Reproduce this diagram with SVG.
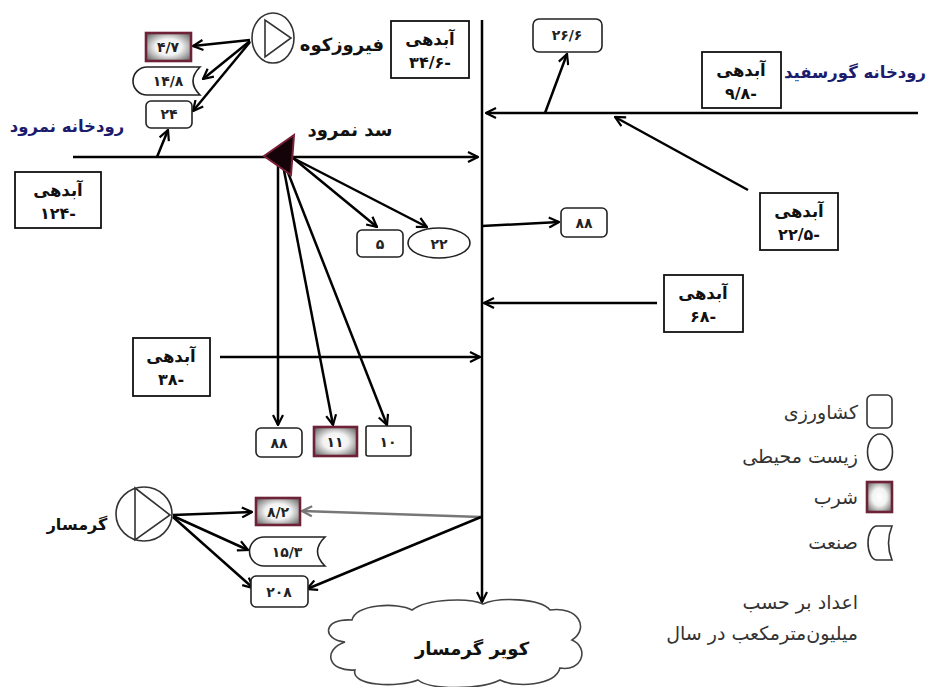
<svg xmlns="http://www.w3.org/2000/svg" width="930" height="687" viewBox="0 0 930 687">
<style>
.ln{stroke:#000;stroke-width:2.5;fill:none}
.ar{stroke:#000;stroke-width:2.5;fill:none;marker-end:url(#ah)}
.box{fill:#fff;stroke:#111;stroke-width:1.8}
.rbox{fill:#fff;stroke:#222;stroke-width:1.6}
.drink{fill:url(#dg);stroke:#6e2238;stroke-width:2.6}
.t{font-family:"DejaVu Sans",sans-serif;font-weight:bold;fill:#111;text-anchor:middle}
.n{font-family:"DejaVu Sans",sans-serif;font-weight:bold;font-size:14px;fill:#222;text-anchor:middle}
.riv{font-family:"DejaVu Sans",sans-serif;font-weight:bold;font-size:16.5px;fill:#1c1c6e;text-anchor:middle}
.lg{font-family:"DejaVu Sans",sans-serif;font-size:19px;fill:#333;text-anchor:end}
</style>
<defs>
<marker id="ah" viewBox="0 0 12 12" refX="11" refY="6" markerWidth="12" markerHeight="12" orient="auto" markerUnits="userSpaceOnUse"><path d="M1,1 L11,6 L1,11" fill="none" stroke="#000" stroke-width="2.2"/></marker>
<marker id="ahg" viewBox="0 0 12 12" refX="11" refY="6" markerWidth="12" markerHeight="12" orient="auto" markerUnits="userSpaceOnUse"><path d="M1,1 L11,6 L1,11" fill="none" stroke="#777" stroke-width="2.2"/></marker>
<radialGradient id="dg" cx="50%" cy="50%" r="65%"><stop offset="0" stop-color="#fff"/><stop offset="0.45" stop-color="#f2f2f2"/><stop offset="1" stop-color="#6a6a6a"/></radialGradient>
</defs>

<g id="connectors">
<path class="ar" d="M482,20 L482,602"/>
<path class="ar" d="M73,157 L478,157"/>
<path class="ar" d="M918,113 L486,113"/>
<path class="ar" d="M157,157 L168,130"/>
<path class="ar" d="M250,40 L193,46"/>
<path class="ar" d="M250,41 L203,79"/>
<path class="ar" d="M250,42 L193,111"/>
<path class="ar" d="M545,113 L567,54"/>
<path class="ar" d="M748,190 L615,117"/>
<path class="ar" d="M293,158 L377,227"/>
<path class="ar" d="M293,158 L427,227"/>
<path class="ar" d="M278,165 L278,425"/>
<path class="ar" d="M283,165 L333,425"/>
<path class="ar" d="M285,165 L387,425"/>
<path class="ar" d="M482,226 L559,222"/>
<path class="ar" d="M657,303 L484,303"/>
<path class="ar" d="M220,357 L480,357"/>
<path class="ar" d="M173,515 L252,512"/>
<path class="ar" d="M173,516 L248,550"/>
<path class="ar" d="M173,517 L253,588"/>
<path d="M481,517 L302,511" stroke="#777" stroke-width="2.5" fill="none" marker-end="url(#ahg)"/>
<path class="ar" d="M481,517 L307,589"/>
</g>

<g id="abdehi-124"><rect class="box" x="15" y="172" width="86" height="56"/><text class="t" font-size="16.5" x="58" y="196">آبدهی</text><text class="t" font-size="16" x="58" y="219">۱۲۴-</text></g>
<g id="abdehi-34-6"><rect class="box" x="391" y="21" width="78" height="57"/><text class="t" font-size="16.5" x="430" y="45">آبدهی</text><text class="t" font-size="16" x="430" y="68">۳۴/۶-</text></g>
<g id="abdehi-9-8"><rect class="box" x="702" y="52" width="79" height="56"/><text class="t" font-size="16.5" x="741" y="76">آبدهی</text><text class="t" font-size="16" x="741" y="99">۹/۸-</text></g>
<g id="abdehi-22-5"><rect class="box" x="760" y="193" width="78" height="57"/><text class="t" font-size="16.5" x="799" y="217">آبدهی</text><text class="t" font-size="16" x="799" y="240">۲۲/۵-</text></g>
<g id="abdehi-68"><rect class="box" x="664" y="275" width="79" height="57"/><text class="t" font-size="16.5" x="703" y="299">آبدهی</text><text class="t" font-size="16" x="703" y="322">۶۸-</text></g>
<g id="abdehi-38"><rect class="box" x="133" y="338" width="77" height="58"/><text class="t" font-size="16.5" x="171" y="362">آبدهی</text><text class="t" font-size="16" x="171" y="385">۳۸-</text></g>

<g id="river-nemrud"><text class="riv" x="67" y="132">رودخانه نمرود</text></g>
<g id="river-gorsefid"><text class="riv" x="855" y="78">رودخانه گورسفید</text></g>

<g id="pump-firuzkuh"><ellipse cx="273" cy="38" rx="21" ry="25" fill="#fff" stroke="#333" stroke-width="1.6"/><polygon points="265,20 265,57 291,38" fill="none" stroke="#333" stroke-width="1.6"/><text class="t" font-size="18" x="342" y="51">فیروزکوه</text></g>
<g id="drink-4-7"><rect class="drink" x="146" y="33" width="45" height="28"/><text class="n" x="168" y="52">۴/۷</text></g>
<g id="ind-14-8"><path class="rbox" d="M147,67 L200,67 Q186,81 200,95 L147,95 A14,14 0 0 1 147,67 Z"/><text class="n" x="168" y="86">۱۴/۸</text></g>
<g id="agr-24"><rect class="rbox" x="146" y="101" width="46" height="27" rx="5"/><text class="n" x="169" y="119">۲۴</text></g>

<g id="agr-26-6"><rect class="rbox" x="533" y="19" width="69" height="33" rx="6"/><text class="n" x="567" y="40">۲۶/۶</text></g>

<g id="dam-nemrud"><polygon points="264,156 294,135 291,175" fill="#14040a" stroke="#7a2038" stroke-width="2"/><text class="t" font-size="18" x="350" y="136">سد نمرود</text></g>
<g id="agr-5"><rect class="rbox" x="357" y="230" width="46" height="27" rx="5"/><text class="n" x="380" y="249">۵</text></g>
<g id="env-22"><ellipse class="rbox" cx="439" cy="243" rx="31" ry="15"/><text class="n" x="439" y="249">۲۲</text></g>
<g id="agr-88-right"><rect class="rbox" x="561" y="208" width="46" height="29" rx="5"/><text class="n" x="584" y="228">۸۸</text></g>

<g id="agr-88"><rect class="rbox" x="256" y="428" width="46" height="29" rx="5"/><text class="n" x="279" y="448">۸۸</text></g>
<g id="drink-11"><rect class="drink" x="314" y="427" width="43" height="29"/><text class="n" x="335" y="447">۱۱</text></g>
<g id="agr-10"><rect class="rbox" x="366" y="426" width="45" height="30" rx="2"/><text class="n" x="388" y="447">۱۰</text></g>

<g id="pump-garmsar"><ellipse cx="144" cy="514" rx="28" ry="27" fill="#fff" stroke="#333" stroke-width="1.6"/><polygon points="135,488 135,540 170,515" fill="none" stroke="#333" stroke-width="1.6"/><text class="t" font-size="16" x="77" y="530">گرمسار</text></g>
<g id="drink-8-2"><rect class="drink" x="256" y="498" width="44" height="27"/><text class="n" x="278" y="517">۸/۲</text></g>
<g id="ind-15-3"><path class="rbox" d="M264,537 L325,537 Q310,551.5 325,566 L264,566 A14.5,14.5 0 0 1 264,537 Z"/><text class="n" x="287" y="557">۱۵/۳</text></g>
<g id="agr-208"><rect class="rbox" x="251" y="576" width="57" height="31" rx="5"/><text class="n" x="279" y="597">۲۰۸</text></g>

<g id="kavir-garmsar"><path d="M345,642 C322,640 322,618 352,620 C356,604 398,602 412,610 C428,598 470,598 483,604 C498,597 540,598 550,610 C578,606 590,628 572,640 C590,648 582,672 560,668 C555,686 515,688 500,680 C480,690 430,690 418,680 C398,688 350,686 355,670 C328,672 322,650 345,642 Z" fill="#fff" stroke="#444" stroke-width="1.6"/><text class="t" font-size="18" x="472" y="655">کویر گرمسار</text></g>

<g id="legend">
<rect x="867" y="395" width="25" height="33" rx="5" fill="#fff" stroke="#333" stroke-width="1.6"/>
<text class="lg" x="858" y="419">کشاورزی</text>
<ellipse cx="880" cy="452" rx="12.5" ry="18" fill="#fff" stroke="#333" stroke-width="1.6"/>
<text class="lg" x="858" y="463">زیست محیطی</text>
<rect class="drink" x="867" y="482" width="25" height="30"/>
<text class="lg" x="858" y="504">شرب</text>
<path d="M877,526 L892,526 Q885,543 892,560 L877,560 A9,17 0 0 1 877,526 Z" fill="#fff" stroke="#333" stroke-width="1.6"/>
<text class="lg" x="858" y="549">صنعت</text>
<text class="lg" x="858" y="609">اعداد بر حسب</text>
<text class="lg" x="858" y="640">میلیون‌مترمکعب در سال</text>
</g>
</svg>
